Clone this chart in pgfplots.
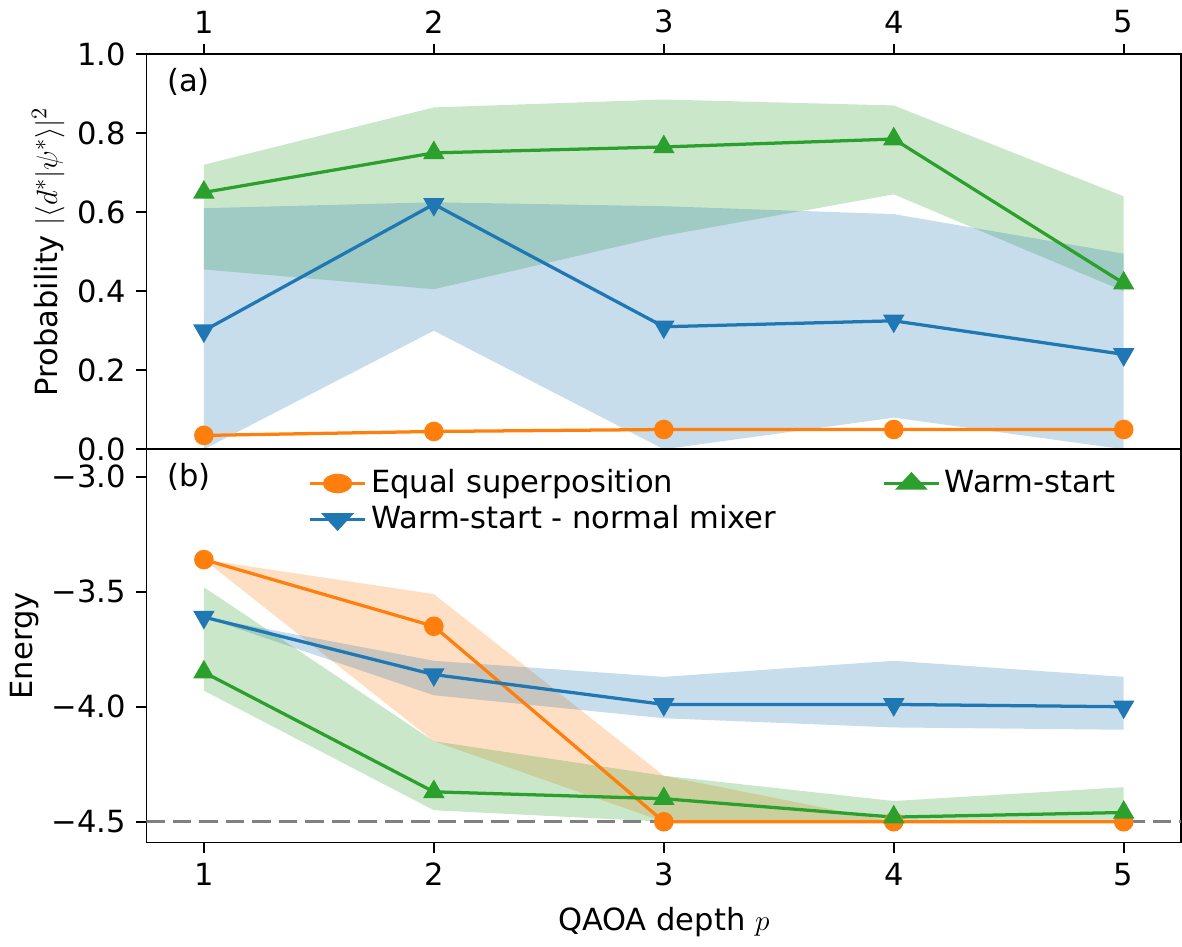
\documentclass[border=0pt]{standalone}
\usepackage{pgfplots}
\pgfplotsset{compat=1.18}
\usepackage{fontspec}
\setmainfont{DejaVu Sans}
\definecolor{tb}{HTML}{1F77B4}
\definecolor{to}{HTML}{FF7F0E}
\definecolor{tg}{HTML}{2CA02C}
\begin{document}
\fontsize{15}{18}\selectfont
\begin{tikzpicture}
\pgfplotsset{every axis/.append style={scale only axis, width=508pt, xmin=0.75, xmax=5.25,
 /pgf/number format/assume math mode=true, tick style={black, thick}, axis line style={thick},
 tick align=outside, major tick length=5pt, xtick={1,2,3,4,5}, ytick pos=left,
 tick label style={font=\fontsize{15}{18}\selectfont}, label style={font=\fontsize{15}{18}\selectfont}}}
\begin{axis}[name=top, height=194pt, ymin=0, ymax=1, ytick={0,0.2,0.4,0.6,0.8,1.0},
 yticklabels={0.0,0.2,0.4,0.6,0.8,1.0}, xticklabel pos=top, xtick pos=top,
 ylabel={Probability $|\langle d^*|\psi^*\rangle|^2$}, ylabel style={yshift=-4pt}]
\addplot[fill=tg, fill opacity=0.25, draw=none, forget plot] coordinates {(1,0.72)(2,0.865)(3,0.885)(4,0.87)(5,0.64)(5,0.40)(4,0.645)(3,0.54)(2,0.405)(1,0.455)} -- cycle;
\addplot[fill=tb, fill opacity=0.25, draw=none, forget plot] coordinates {(1,0.61)(2,0.625)(3,0.615)(4,0.595)(5,0.495)(5,0.0)(4,0.08)(3,0.0)(2,0.30)(1,0.0)} -- cycle;
\addplot[to, line width=1.6pt, mark=*, mark size=4pt] coordinates {(1,0.035)(2,0.045)(3,0.05)(4,0.05)(5,0.05)};
\addplot[tb, line width=1.6pt, mark=triangle*, mark size=4.5pt, mark options={rotate=180}] coordinates {(1,0.30)(2,0.62)(3,0.31)(4,0.325)(5,0.24)};
\addplot[tg, line width=1.6pt, mark=triangle*, mark size=4.5pt] coordinates {(1,0.65)(2,0.75)(3,0.765)(4,0.785)(5,0.42)};
\node[anchor=north west] at (rel axis cs:0.01,0.99) {(a)};
\end{axis}
\begin{axis}[at={(top.south west)}, anchor=north west, height=193pt, ymin=-4.59, ymax=-2.88,
 ytick={-4.5,-4,-3.5,-3}, yticklabels={−4.5,−4.0,−3.5,−3.0}, xtick pos=bottom,
 xlabel={QAOA depth $p$}, ylabel={Energy}, ylabel style={yshift=-4pt},
 legend columns=2, legend style={draw=none, fill=none, at={(rel axis cs:0.15,0.97)}, anchor=north west, font=\fontsize{15}{18}\selectfont, /tikz/every even column/.append style={column sep=50pt}, /tikz/every odd column/.append style={}},
 legend image post style={xscale=1.6},
 legend cell align=left]
\addplot[fill=to, fill opacity=0.25, draw=none, forget plot] coordinates {(1,-3.36)(2,-3.51)(3,-4.3)(4,-4.5)(5,-4.5)(5,-4.5)(4,-4.5)(3,-4.5)(2,-4.15)(1,-3.36)} -- cycle;
\addplot[fill=tb, fill opacity=0.25, draw=none, forget plot] coordinates {(1,-3.61)(2,-3.80)(3,-3.87)(4,-3.80)(5,-3.87)(5,-4.10)(4,-4.09)(3,-4.05)(2,-3.95)(1,-3.61)} -- cycle;
\addplot[fill=tg, fill opacity=0.25, draw=none, forget plot] coordinates {(1,-3.48)(2,-4.15)(3,-4.30)(4,-4.41)(5,-4.35)(5,-4.5)(4,-4.5)(3,-4.5)(2,-4.45)(1,-3.93)} -- cycle;
\addplot[gray, line width=1.6pt, dash pattern=on 9pt off 4pt, forget plot] coordinates {(0.75,-4.5)(5.25,-4.5)};
\addplot[to, line width=1.6pt, mark=*, mark size=4pt] coordinates {(1,-3.36)(2,-3.65)(3,-4.5)(4,-4.5)(5,-4.5)};
\addlegendentry{Equal superposition}
\addplot[tg, line width=1.6pt, mark=triangle*, mark size=4.5pt] coordinates {(1,-3.85)(2,-4.37)(3,-4.40)(4,-4.48)(5,-4.46)};
\addlegendentry{Warm-start}
\addplot[tb, line width=1.6pt, mark=triangle*, mark size=4.5pt, mark options={rotate=180}] coordinates {(1,-3.61)(2,-3.86)(3,-3.99)(4,-3.99)(5,-4.0)};
\addlegendentry{Warm-start - normal mixer}
\node[anchor=north west] at (rel axis cs:0.01,0.99) {(b)};
\end{axis}
\end{tikzpicture}
\end{document}
